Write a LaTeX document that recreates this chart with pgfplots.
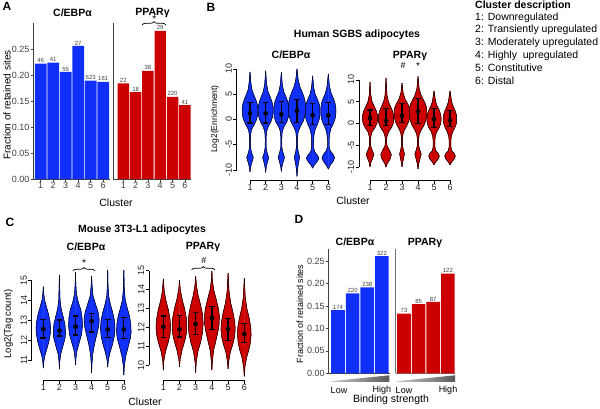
\documentclass[border=0pt]{standalone}
\usepackage{fontspec}
\setmainfont{Liberation Sans}
\usepackage{pgfplots}
\usepackage{pgfplotstable}
\pgfplotsset{compat=1.18}
\usetikzlibrary{decorations.pathreplacing}
\definecolor{cblue}{RGB}{16,48,250}
\definecolor{cred}{RGB}{204,0,0}
\newcommand{\fsz}[1]{\fontsize{#1}{#1}\selectfont}

% violin outlines: y, half width (in cluster units)
\pgfplotstableread[row sep=\\]{y w\\ -10.4 0\\ -9.6 0.03\\ -8.7 0.10\\ -7.6 0.21\\ -6.6 0.10\\ -5.6 0.03\\ -4.2 0.025\\ -3 0.04\\ -2 0.10\\ -1 0.28\\ 0 0.42\\ 1 0.49\\ 2 0.50\\ 3 0.46\\ 4 0.36\\ 5 0.22\\ 6 0.11\\ 7.5 0.05\\ 9.4 0\\}\vba
\pgfplotstableread[row sep=\\]{y w\\ -10.5 0\\ -9.6 0.03\\ -8.7 0.09\\ -7.6 0.19\\ -6.6 0.09\\ -5.6 0.03\\ -4 0.025\\ -2.5 0.05\\ -1.5 0.15\\ -0.5 0.33\\ 0.5 0.44\\ 1.5 0.48\\ 2.5 0.47\\ 3.5 0.40\\ 4.5 0.28\\ 5.5 0.15\\ 7 0.06\\ 9.6 0\\}\vbb
\pgfplotstableread[row sep=\\]{y w\\ -10.3 0\\ -9.5 0.03\\ -8.6 0.10\\ -7.5 0.20\\ -6.5 0.10\\ -5.5 0.03\\ -4 0.025\\ -2.5 0.05\\ -1.5 0.16\\ -0.5 0.35\\ 0.5 0.45\\ 1.5 0.48\\ 2.5 0.47\\ 3.5 0.41\\ 4.5 0.29\\ 5.5 0.15\\ 7 0.06\\ 9.3 0\\}\vbc
\pgfplotstableread[row sep=\\]{y w\\ -11.3 0\\ -10 0.03\\ -8.7 0.09\\ -7.5 0.17\\ -6.4 0.08\\ -5.3 0.03\\ -4 0.03\\ -2.5 0.07\\ -1.5 0.2\\ -0.5 0.38\\ 0.5 0.49\\ 1.5 0.54\\ 2.5 0.55\\ 3.5 0.52\\ 4.5 0.44\\ 5.5 0.32\\ 6.5 0.18\\ 8 0.07\\ 10 0\\}\vbd
\pgfplotstableread[row sep=\\]{y w\\ -9.6 0\\ -9 0.12\\ -8.3 0.30\\ -7.7 0.40\\ -7.1 0.30\\ -6.4 0.12\\ -5.5 0.06\\ -4.2 0.06\\ -3 0.09\\ -2 0.16\\ -1 0.3\\ 0 0.42\\ 1 0.47\\ 2 0.47\\ 3 0.42\\ 4 0.30\\ 5 0.16\\ 6.3 0.07\\ 8.6 0\\}\vbe
\pgfplotstableread[row sep=\\]{y w\\ -9.8 0\\ -9.1 0.12\\ -8.3 0.31\\ -7.6 0.40\\ -6.9 0.30\\ -6.2 0.12\\ -5.3 0.05\\ -4 0.05\\ -2.8 0.09\\ -1.8 0.17\\ -0.8 0.33\\ 0.2 0.44\\ 1.2 0.48\\ 2.2 0.48\\ 3.2 0.43\\ 4.2 0.32\\ 5.2 0.18\\ 6.5 0.08\\ 9 0\\}\vbf

\pgfplotstableread[row sep=\\]{y w\\ -10 0\\ -9 0.05\\ -8 0.16\\ -7.1 0.24\\ -6.2 0.14\\ -5.2 0.04\\ -4 0.03\\ -3 0.05\\ -2 0.12\\ -1 0.30\\ 0 0.43\\ 1 0.48\\ 2 0.46\\ 3 0.38\\ 4 0.25\\ 5 0.13\\ 6.5 0.05\\ 9.5 0\\}\vra
\pgfplotstableread[row sep=\\]{y w\\ -10 0\\ -9.2 0.08\\ -8.2 0.25\\ -7.2 0.33\\ -6.2 0.22\\ -5.2 0.07\\ -4 0.03\\ -3 0.06\\ -2 0.15\\ -1 0.33\\ 0 0.45\\ 1 0.48\\ 2 0.46\\ 3 0.39\\ 4 0.27\\ 5 0.15\\ 6.5 0.06\\ 10.5 0\\}\vrb
\pgfplotstableread[row sep=\\]{y w\\ -10 0\\ -9 0.04\\ -8 0.10\\ -7 0.15\\ -6 0.08\\ -5 0.03\\ -3.5 0.03\\ -2.5 0.06\\ -1.5 0.15\\ -0.5 0.30\\ 0.5 0.42\\ 1.5 0.48\\ 2.5 0.50\\ 3.5 0.47\\ 4.5 0.36\\ 5.5 0.20\\ 7 0.07\\ 9.3 0\\}\vrc
\pgfplotstableread[row sep=\\]{y w\\ -10.5 0\\ -9.2 0.05\\ -8 0.13\\ -7 0.20\\ -6 0.10\\ -5 0.04\\ -3.5 0.04\\ -2.5 0.08\\ -1.5 0.2\\ -0.5 0.36\\ 0.5 0.47\\ 1.5 0.53\\ 2.5 0.55\\ 3.5 0.54\\ 4.5 0.46\\ 5.5 0.33\\ 6.5 0.19\\ 8 0.07\\ 10.8 0\\}\vrd
\pgfplotstableread[row sep=\\]{y w\\ -9.5 0\\ -8.8 0.12\\ -8.1 0.28\\ -7.5 0.33\\ -6.9 0.26\\ -6.2 0.10\\ -5.3 0.05\\ -4 0.05\\ -3 0.08\\ -2 0.16\\ -1 0.32\\ 0 0.42\\ 1 0.45\\ 2 0.42\\ 3 0.33\\ 4 0.20\\ 5 0.10\\ 7.5 0\\}\vre
\pgfplotstableread[row sep=\\]{y w\\ -9.5 0\\ -8.8 0.12\\ -8.1 0.28\\ -7.5 0.33\\ -6.9 0.26\\ -6.2 0.10\\ -5.3 0.05\\ -4 0.05\\ -3 0.08\\ -2 0.16\\ -1 0.30\\ 0 0.40\\ 1 0.42\\ 2 0.40\\ 3 0.31\\ 4 0.19\\ 5 0.10\\ 7.5 0\\}\vrf

\pgfplotstableread[row sep=\\]{y w\\ 10.6 0\\ 10.9 0.03\\ 11.2 0.09\\ 11.5 0.20\\ 11.9 0.34\\ 12.3 0.43\\ 12.6 0.45\\ 12.9 0.42\\ 13.3 0.32\\ 13.7 0.18\\ 14.0 0.08\\ 14.3 0.03\\ 14.67 0\\}\mba
\pgfplotstableread[row sep=\\]{y w\\ 10.55 0\\ 10.9 0.02\\ 11.3 0.08\\ 11.7 0.22\\ 12.1 0.35\\ 12.4 0.38\\ 12.8 0.34\\ 13.2 0.22\\ 13.6 0.10\\ 14.0 0.04\\ 14.6 0.02\\ 15.25 0\\}\mbb
\pgfplotstableread[row sep=\\]{y w\\ 10.75 0\\ 11.1 0.03\\ 11.5 0.10\\ 11.9 0.24\\ 12.3 0.38\\ 12.7 0.43\\ 13.1 0.41\\ 13.5 0.33\\ 13.9 0.17\\ 14.3 0.06\\ 14.8 0.02\\ 15.4 0\\}\mbc
\pgfplotstableread[row sep=\\]{y w\\ 10.35 0\\ 10.8 0.02\\ 11.3 0.07\\ 11.8 0.18\\ 12.3 0.33\\ 12.7 0.44\\ 13.0 0.47\\ 13.4 0.40\\ 13.8 0.24\\ 14.2 0.09\\ 14.7 0.03\\ 15.2 0\\}\mbd
\pgfplotstableread[row sep=\\]{y w\\ 10.65 0\\ 11.0 0.04\\ 11.4 0.15\\ 11.8 0.30\\ 12.2 0.41\\ 12.6 0.45\\ 13.0 0.41\\ 13.4 0.30\\ 13.8 0.16\\ 14.2 0.06\\ 14.7 0.02\\ 15.5 0\\}\mbe
\pgfplotstableread[row sep=\\]{y w\\ 10.25 0\\ 10.7 0.03\\ 11.2 0.12\\ 11.7 0.28\\ 12.1 0.41\\ 12.4 0.45\\ 12.8 0.43\\ 13.2 0.35\\ 13.6 0.21\\ 14.0 0.09\\ 14.5 0.03\\ 15.5 0\\}\mbf

\pgfplotstableread[row sep=\\]{y w\\ 9.74 0\\ 10.2 0.03\\ 10.7 0.13\\ 11.2 0.30\\ 11.6 0.41\\ 12.0 0.45\\ 12.4 0.42\\ 12.9 0.32\\ 13.4 0.17\\ 13.9 0.06\\ 14.57 0\\}\mra
\pgfplotstableread[row sep=\\]{y w\\ 9.9 0\\ 10.3 0.04\\ 10.8 0.16\\ 11.3 0.33\\ 11.7 0.43\\ 12.1 0.45\\ 12.5 0.42\\ 13.0 0.31\\ 13.5 0.16\\ 14.0 0.05\\ 14.5 0\\}\mrb
\pgfplotstableread[row sep=\\]{y w\\ 9.6 0\\ 10.1 0.03\\ 10.7 0.13\\ 11.2 0.30\\ 11.7 0.42\\ 12.2 0.46\\ 12.7 0.42\\ 13.2 0.30\\ 13.7 0.15\\ 14.2 0.05\\ 14.7 0\\}\mrc
\pgfplotstableread[row sep=\\]{y w\\ 9.74 0\\ 10.2 0.03\\ 10.8 0.11\\ 11.3 0.25\\ 11.8 0.38\\ 12.2 0.45\\ 12.6 0.46\\ 13.0 0.40\\ 13.5 0.26\\ 14.0 0.11\\ 14.5 0.03\\ 15.0 0\\}\mrd
\pgfplotstableread[row sep=\\]{y w\\ 9.8 0\\ 10.2 0.04\\ 10.7 0.14\\ 11.1 0.29\\ 11.5 0.40\\ 11.9 0.44\\ 12.3 0.41\\ 12.8 0.30\\ 13.3 0.16\\ 13.9 0.06\\ 14.87 0\\}\mre
\pgfplotstableread[row sep=\\]{y w\\ 9.4 0\\ 9.9 0.04\\ 10.4 0.14\\ 10.8 0.28\\ 11.2 0.38\\ 11.6 0.42\\ 12.0 0.40\\ 12.5 0.30\\ 13.0 0.16\\ 13.6 0.06\\ 14.6 0\\}\mrf

% means with error bar ends
\pgfplotstableread[row sep=\\]{x m lo hi\\ 1 1.2 -0.7 3.4\\ 2 1.2 -0.7 3.3\\ 3 1.0 -0.6 3.5\\ 4 1.7 -0.6 3.9\\ 5 0.8 -1.0 3.2\\ 6 0.8 -1.0 3.4\\}\ebb
\pgfplotstableread[row sep=\\]{x m lo hi\\ 1 1.2 -0.5 3.1\\ 2 0.6 -0.5 3.5\\ 3 1.8 0.3 4.5\\ 4 2.7 0.0 5.7\\ 5 1.0 -1.0 3.5\\ 6 0.7 -0.7 3.0\\}\ebr
\pgfplotstableread[row sep=\\]{x m lo hi\\ 1 12.55 12.1 13.03\\ 2 12.47 12.2 13.0\\ 3 12.67 12.25 13.2\\ 4 12.95 12.4 13.33\\ 5 12.53 12.12 13.03\\ 6 12.53 12.08 13.12\\}\emb
\pgfplotstableread[row sep=\\]{x m lo hi\\ 1 12.03 11.47 12.6\\ 2 11.9 11.49 12.65\\ 3 12.17 11.63 12.8\\ 4 12.5 11.87 13.1\\ 5 11.93 11.3 12.47\\ 6 11.65 11.2 12.2\\}\emr

% each half filled (closed along the centre line), then both outlines
\newcommand{\violin}[3]{%
  \addplot[fill=#3, draw=#3, line width=0.4pt] table[x expr={#1+\thisrow{w}}, y=y] {#2} -- cycle;
  \addplot[fill=#3, draw=#3, line width=0.4pt] table[x expr={#1-\thisrow{w}}, y=y] {#2} -- cycle;
  \addplot[black, line width=0.5pt] table[x expr={#1+\thisrow{w}}, y=y] {#2};
  \addplot[black, line width=0.5pt] table[x expr={#1-\thisrow{w}}, y=y] {#2};
}
% mean, bar and caps
\newcommand{\means}[1]{%
  \addplot[black, only marks, mark=*, mark size=2.1pt,
    error bars/.cd, y dir=both, y explicit, error mark=none, error bar style={line width=1.3pt}]
    table[x=x, y=m, y error plus expr={\thisrow{hi}-\thisrow{m}}, y error minus expr={\thisrow{m}-\thisrow{lo}}] {#1};
  \addplot[black, only marks, mark=-, mark size=2.8pt, line width=1.2pt] table[x=x, y=hi] {#1};
  \addplot[black, only marks, mark=-, mark size=2.8pt, line width=1.2pt] table[x=x, y=lo] {#1};
}

\pgfplotsset{
  base/.style={scale only axis, clip=false, anchor=south west,
    /pgf/number format/assume math mode=true},
  gg/.style={base, axis lines*=left, tick align=outside,
    axis line style={black!75, line width=0.6pt},
    major tick length=2.5pt, tick style={black!75, line width=0.5pt},
    tick label style={font=\fsz{9}, text=black!75, inner sep=1pt},
    scaled y ticks=false,
    yticklabel style={/pgf/number format/fixed, /pgf/number format/fixed zerofill, /pgf/number format/precision=2}},
  rr/.style={base, axis lines*=left, tick align=outside,
    axis line style={draw=none},
    major tick length=3.5pt, tick style={black, line width=0.6pt},
    tick label style={font=\fsz{9}, text=black!85, inner sep=1pt},
    xtick={1,...,6}, yticklabel style={rotate=90, anchor=south}},
  bars/.style={ybar, bar width=0.93, draw=none, nodes near coords, point meta=explicit symbolic,
    every node near coord/.append style={font=\fsz{6}, text=black!75, inner sep=0.6pt}},
}

\begin{document}
\begin{tikzpicture}
\path[use as bounding box] (0,0) rectangle (600pt,408pt);

% ---------- A ----------
\begin{axis}[gg, at={(33.2pt,229pt)}, width=76.9pt, height=156pt,
  xmin=0.4, xmax=6.55, ymin=0, ymax=0.3, xtick={1,...,6},
  ytick={0,0.05,0.1,0.15,0.2,0.25}]
\addplot[bars, fill=cblue] coordinates {(1,0.222)[46] (2,0.224)[41] (3,0.206)[55] (4,0.256)[27] (5,0.189)[623] (6,0.187)[161]};
\end{axis}
\begin{axis}[gg, at={(113pt,229pt)}, width=78pt, height=156pt,
  xmin=0.16, xmax=6.5, ymin=0, ymax=0.3, xtick={1,...,6}, ytick=\empty]
\addplot[bars, fill=cred] coordinates {(1,0.184)[22] (2,0.167)[18] (3,0.208)[38] (4,0.285)[29] (5,0.158)[220] (6,0.142)[41]};
\draw[decorate, decoration={brace, amplitude=3.5pt}, line width=0.7pt] (axis cs:2.52,0.296) -- (axis cs:4.47,0.296);
\end{axis}

% ---------- B ----------
\begin{axis}[rr, at={(236.7pt,228pt)}, width=104.9pt, height=118.7pt,
  xmin=0.15, xmax=6.85, ymin=-12, ymax=11.5, ytick={-10,-5,0,5,10}]
\violin{1}{\vba}{cblue}
\violin{2}{\vbb}{cblue}
\violin{3}{\vbc}{cblue}
\violin{4}{\vbd}{cblue}
\violin{5}{\vbe}{cblue}
\violin{6}{\vbf}{cblue}
\means{\ebb}
\draw[line width=0.6pt] (axis cs:0.15,-10) -- (axis cs:0.15,10);
\draw[line width=0.6pt] (axis cs:1,-12) -- (axis cs:6,-12);
\end{axis}
\begin{axis}[rr, at={(359pt,228pt)}, width=103pt, height=119.6pt,
  xmin=0.31, xmax=6.75, ymin=-13, ymax=14.5, ytick={-10,-5,0,5,10}]
\violin{1}{\vra}{cred}
\violin{2}{\vrb}{cred}
\violin{3}{\vrc}{cred}
\violin{4}{\vrd}{cred}
\violin{5}{\vre}{cred}
\violin{6}{\vrf}{cred}
\means{\ebr}
\draw[line width=0.6pt] (axis cs:0.31,-10) -- (axis cs:0.31,10);
\draw[line width=0.6pt] (axis cs:1,-13) -- (axis cs:6,-13);
\end{axis}

% ---------- C ----------
\begin{axis}[rr, at={(31.7pt,28pt)}, width=101.8pt, height=112pt,
  xmin=0.28, xmax=6.6, ymin=10, ymax=15.6, ytick={11,...,15}]
\violin{1}{\mba}{cblue}
\violin{2}{\mbb}{cblue}
\violin{3}{\mbc}{cblue}
\violin{4}{\mbd}{cblue}
\violin{5}{\mbe}{cblue}
\violin{6}{\mbf}{cblue}
\means{\emb}
\draw[line width=0.6pt] (axis cs:0.28,11) -- (axis cs:0.28,15);
\draw[line width=0.6pt] (axis cs:1,10) -- (axis cs:6,10);
\draw[decorate, decoration={brace, amplitude=3.5pt}, line width=0.7pt] (axis cs:2.83,15.45) -- (axis cs:4.21,15.45);
\end{axis}
\begin{axis}[rr, at={(149pt,28pt)}, width=105pt, height=117.9pt,
  xmin=0.117, xmax=6.6, ymin=9.21, ymax=15.46, ytick={10,...,15}]
\violin{1}{\mra}{cred}
\violin{2}{\mrb}{cred}
\violin{3}{\mrc}{cred}
\violin{4}{\mrd}{cred}
\violin{5}{\mre}{cred}
\violin{6}{\mrf}{cred}
\means{\emr}
\draw[line width=0.6pt] (axis cs:0.117,10) -- (axis cs:0.117,15);
\draw[line width=0.6pt] (axis cs:1,9.21) -- (axis cs:6,9.21);
\draw[decorate, decoration={brace, amplitude=3.5pt}, line width=0.7pt] (axis cs:2.75,15.04) -- (axis cs:4.19,15.04);
\end{axis}

% ---------- D ----------
\begin{axis}[gg, at={(328.3pt,34.7pt)}, width=61.6pt, height=124.8pt,
  xmin=0.338, xmax=4.546, ymin=0, ymax=0.278, xtick=\empty,
  ytick={0,0.05,0.1,0.15,0.2,0.25}]
\addplot[bars, fill=cblue] coordinates {(1,0.141)[174] (2,0.178)[220] (3,0.1915)[238] (4,0.261)[322]};
\end{axis}
\begin{axis}[gg, at={(395.7pt,34.7pt)}, width=59.6pt, height=124.8pt,
  xmin=0.432, xmax=4.51, ymin=0, ymax=0.278, xtick=\empty, ytick=\empty,
  axis line style={black!55, line width=0.6pt}]
\addplot[bars, fill=cred] coordinates {(1,0.133)[73] (2,0.154)[85] (3,0.159)[87] (4,0.222)[122]};
\end{axis}
\shade[left color=black!20, right color=black!65] (330.7pt,26.2pt) -- (389.3pt,26.2pt) -- (389.3pt,32.7pt) -- (330.7pt,26.8pt) -- cycle;
\shade[left color=black!20, right color=black!65] (396.7pt,26.2pt) -- (455pt,26.2pt) -- (455pt,32.7pt) -- (396.7pt,26.8pt) -- cycle;

% ---------- text ----------
\begin{scope}[every node/.style={inner sep=0pt}]
\node[font=\fsz{12}\bfseries] at (7pt,402pt) {A};
\node[font=\fsz{12}\bfseries] at (211pt,401pt) {B};
\node[font=\fsz{12}\bfseries] at (10pt,186pt) {C};
\node[font=\fsz{12}\bfseries] at (299pt,189pt) {D};

\node[font=\fsz{10.5}\bfseries] at (72.5pt,395pt) {C/EBPα};
\node[font=\fsz{10.5}\bfseries] at (152.5pt,395pt) {PPARγ};
\node[font=\fsz{10.5}\bfseries] at (357pt,373pt) {Human SGBS adipocytes};
\node[font=\fsz{10.5}\bfseries] at (291pt,353pt) {C/EBPα};
\node[font=\fsz{10.5}\bfseries] at (410pt,352pt) {PPARγ};
\node[font=\fsz{10.5}\bfseries] at (142pt,178pt) {Mouse 3T3-L1 adipocytes};
\node[font=\fsz{10.5}\bfseries] at (86pt,161pt) {C/EBPα};
\node[font=\fsz{10.5}\bfseries] at (203pt,161pt) {PPARγ};
\node[font=\fsz{10.5}\bfseries] at (355pt,166pt) {C/EBPα};
\node[font=\fsz{10.5}\bfseries] at (425pt,165pt) {PPARγ};

\node[font=\fsz{10}, rotate=90] at (7pt,303pt) {Fraction of retained sites};
\node[font=\fsz{10.5}] at (116pt,205pt) {Cluster};
\node[font=\fsz{8.5}, rotate=90] at (215pt,289pt) {Log2(Enrichment)};
\node[font=\fsz{10.5}] at (353pt,207pt) {Cluster};
\node[font=\fsz{9.5}, rotate=90] at (8.3pt,84pt) {Log2(Tag count)};
\node[font=\fsz{10.5}] at (145pt,6.3pt) {Cluster};
\node[font=\fsz{9}, rotate=90] at (300pt,94pt) {Fraction of retained sites};
\node[font=\fsz{10.5}] at (391pt,8pt) {Binding strength};
\node[font=\fsz{9}] at (339pt,18pt) {Low};
\node[font=\fsz{9}] at (382pt,18pt) {High};
\node[font=\fsz{9}] at (404pt,18pt) {Low};
\node[font=\fsz{9}] at (448pt,18pt) {High};

\node[font=\fsz{10}] at (154.3pt,389pt) {*};
\node[font=\fsz{9}] at (403pt,343pt) {\#};
\node[font=\fsz{10}] at (418pt,341.5pt) {*};
\node[font=\fsz{10}] at (84pt,144.5pt) {*};
\node[font=\fsz{9}] at (204pt,148pt) {\#};

\begin{scope}[every node/.style={anchor=west, inner sep=0pt, text height=1.6ex, text depth=0.4ex, font=\fsz{10.5}}]
\node[font=\fsz{10.5}\bfseries] at (475pt,402.5pt) {Cluster description};
\node at (475pt,391pt) {1: Downregulated};
\node at (475pt,378.2pt) {2: Transiently upregulated};
\node at (475pt,365.4pt) {3: Moderately upregulated};
\node at (475pt,352.6pt) {4: Highly~ upregulated};
\node at (475pt,339.8pt) {5: Constitutive};
\node at (475pt,327pt) {6: Distal};
\end{scope}
\end{scope}
\end{tikzpicture}
\end{document}
